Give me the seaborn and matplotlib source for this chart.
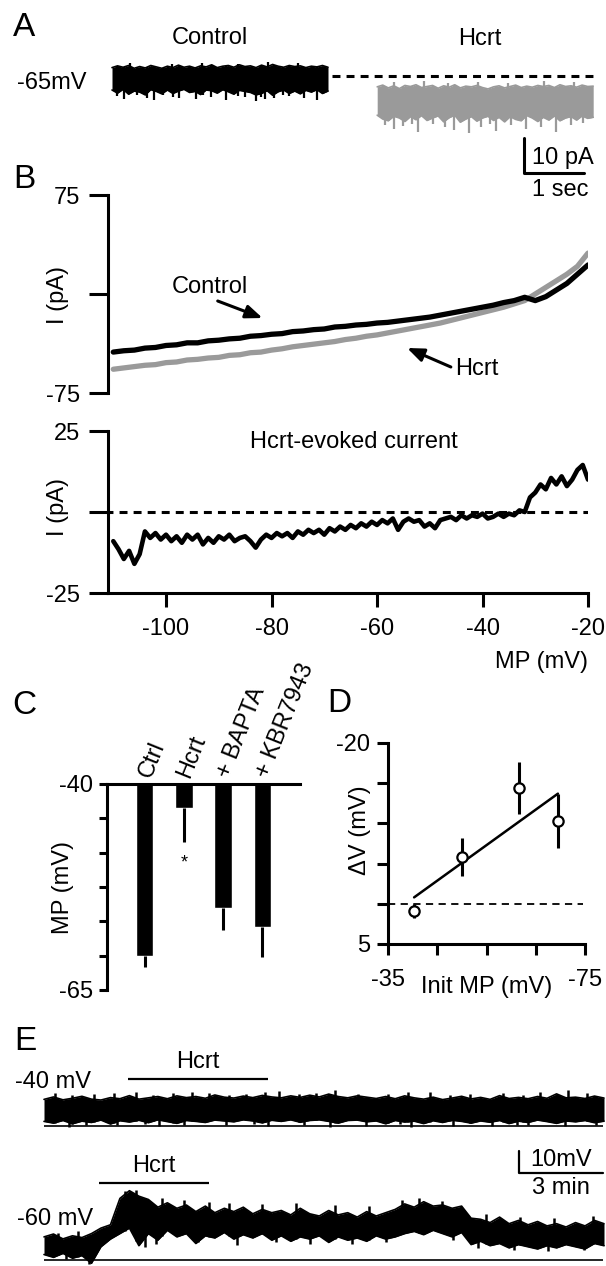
import numpy as np
import seaborn as sns
import matplotlib.pyplot as plt

# ---------------- values ----------------
# A: holding current at -65 mV, upper / lower edge of the noisy trace (pA, 0 = dashed baseline)
a_ctrl_hi = [2.4, 2.9, 2.5, 3.0, 2.2, 2.7, 2.3, 3.0, 2.6, 2.2,
             2.8, 2.4, 3.1, 2.5, 2.8, 2.3, 2.9, 2.6, 3.2, 2.4,
             2.8, 3.0, 2.5, 3.2, 2.7, 2.9, 2.4, 3.1, 2.6, 3.3,
             2.8, 2.5, 3.0, 2.7, 2.9, 2.4, 2.8, 2.6, 3.0, 2.5]
a_ctrl_lo = [-4.0, -4.9, -3.8, -5.2, -4.3, -4.6, -5.4, -3.9, -4.4, -5.1,
             -4.0, -5.0, -4.3, -3.8, -4.7, -4.4, -5.3, -4.0, -4.2, -4.9,
             -3.9, -4.5, -5.2, -4.1, -4.4, -4.7, -5.4, -5.0, -4.2, -5.5,
             -4.5, -4.0, -5.0, -4.3, -5.1, -4.1, -4.6, -3.9, -5.0, -4.3]
a_hcrt_hi = [-3.1, -2.6, -3.4, -2.8, -3.6, -2.7, -3.0, -2.5, -3.3, -3.0,
             -2.7, -3.5, -2.8, -3.2, -2.5, -3.4, -2.9, -3.1, -2.7, -3.3,
             -3.7, -3.1, -2.8, -3.4, -3.0, -2.6, -3.3, -2.9, -3.2, -2.7,
             -3.0, -2.7, -3.3, -2.5, -3.0, -2.8, -3.2, -2.6, -3.0, -2.9]
a_hcrt_lo = [-11.2, -12.3, -12.8, -11.5, -12.0, -13.0, -11.6, -12.5, -11.3, -12.7,
             -12.0, -11.4, -13.1, -11.9, -11.2, -13.2, -12.3, -11.6, -12.9, -12.0,
             -11.5, -12.7, -11.8, -13.1, -11.6, -12.4, -12.8, -11.3, -12.0, -13.0,
             -11.8, -12.6, -11.4, -12.8, -12.0, -11.6, -12.6, -11.4, -12.1, -11.8]
# single fast events sticking out of the band (time s, tip pA)
a_ctrl_dn_t = [0.28, 0.4, 0.62, 0.78, 0.9, 1.05, 1.22, 1.32, 1.6, 1.72, 1.85,
               2.1, 2.3, 2.42, 2.6, 2.68, 2.75, 2.9, 3.05, 3.15, 3.4, 3.62]
a_ctrl_dn_y = [-5.6, -6.5, -5.3, -6.2, -6.9, -5.5, -5.9, -6.4, -6.6, -5.4, -5.9,
               -6.8, -5.6, -6.0, -7.0, -6.1, -6.7, -6.4, -5.5, -5.7, -6.3, -6.8]
a_ctrl_up_t = [0.5, 1.2, 1.7, 2.3, 2.8, 3.3]
a_ctrl_up_y = [3.6, 3.4, 3.8, 3.5, 3.9, 3.7]
a_hcrt_dn_t = [4.75, 4.9, 5.05, 5.2, 5.3, 5.55, 5.75, 5.9, 6.15,
               6.35, 6.5, 6.6, 6.85, 7.1, 7.35, 7.6, 7.85, 8.05]
a_hcrt_dn_y = [-14.0, -15.2, -14.2, -13.6, -16.0, -13.8, -14.6, -15.5, -16.3,
               -14.5, -13.7, -15.8, -13.9, -15.1, -14.6, -15.9, -14.0, -13.5]
a_hcrt_up_t = [4.9, 5.4, 5.8, 6.3, 6.8, 7.4, 7.9]
a_hcrt_up_y = [-1.8, -1.5, -2.0, -1.6, -1.9, -1.4, -1.7]

# B: ramp I-V (pA) against membrane potential (mV)
b_mp = np.arange(-110, -18, 2)
b_ctrl = [-44.0, -43.0, -42.5, -41.0, -40.5, -39.0, -38.5, -37.0, -37.0, -35.5,
          -35.0, -34.0, -33.5, -32.0, -31.5, -30.5, -30.0, -28.5, -28.0, -27.0,
          -26.5, -25.0, -24.5, -23.5, -23.0, -22.0, -21.5, -20.5, -19.5, -18.5,
          -17.5, -16.0, -14.5, -13.0, -11.5, -10.0, -8.5, -6.5, -5.0, -2.5,
          -5.0, -2.0, 3.0, 8.0, 15.0, 22.0]
b_hcrt = [-57.0, -56.0, -55.0, -54.0, -53.5, -52.0, -51.5, -50.0, -49.5, -48.5,
          -48.0, -46.5, -46.0, -44.5, -44.0, -42.5, -41.5, -40.0, -39.0, -38.0,
          -37.0, -36.0, -34.5, -33.5, -32.0, -31.0, -29.5, -28.0, -26.5, -25.0,
          -23.5, -22.0, -20.0, -18.0, -16.0, -14.0, -12.0, -10.0, -7.5, -5.0,
          0.0, 5.0, 10.0, 15.0, 21.0, 31.0]
b_diff_mp = np.arange(-110, -19, 1)
b_diff = [-9.0, -11.5, -14.5, -12.0, -16.0, -13.0, -6.0, -8.0, -6.5, -8.5,
          -7.0, -9.0, -7.5, -9.5, -7.0, -8.5, -7.0, -10.0, -8.0, -9.5,
          -7.5, -8.5, -7.0, -9.0, -8.0, -7.5, -9.0, -11.0, -8.5, -7.0,
          -8.0, -6.5, -7.5, -6.5, -8.0, -6.0, -7.0, -5.5, -6.5, -5.5,
          -7.0, -5.0, -6.0, -4.5, -5.5, -4.0, -5.0, -3.5, -4.5, -3.0,
          -4.0, -2.5, -3.5, -2.0, -5.5, -3.0, -2.0, -3.0, -2.5, -4.5,
          -3.5, -5.0, -2.5, -2.0, -1.5, -2.5, -1.0, -2.0, -1.0, -1.5,
          -0.5, -2.0, -1.5, -0.5, -1.5, -0.5, -1.0, 0.5, 0.0, 4.5,
          6.0, 8.5, 7.0, 10.5, 8.5, 11.0, 8.0, 10.0, 13.0, 14.5,
          10.0]

# C: resting membrane potential (mV), mean and SEM
c_groups = ['Ctrl', 'Hcrt', '+ BAPTA', '+ KBR7943']
c_mp = [-60.9, -42.9, -55.0, -57.3]
c_sem = [1.3, 4.1, 2.7, 3.7]

# D: Hcrt depolarisation vs initial MP
d_init = [-40.3, -50.0, -61.5, -69.5]
d_dv = [0.9, -5.8, -14.4, -10.3]
d_sem = [0.9, 2.4, 3.2, 3.3]
d_fit_x = [-40.3, -69.5]
d_fit_y = [-0.8, -13.7]

# E: slow MP recordings, upper / lower edge in mV above the baseline line, 20 min
e_min = np.linspace(0, 20, 60)
e40_hi = [12.1, 13.2, 11.9, 12.6, 13.5, 12.2, 11.8, 12.9, 12.4, 13.8,
          12.2, 12.8, 13.4, 12.4, 13.7, 12.9, 13.4, 12.6, 14.1, 13.1,
          12.7, 13.6, 12.9, 13.9, 13.2, 12.8, 13.7, 13.0, 14.0, 13.2,
          14.5, 13.4, 12.8, 13.7, 13.1, 12.5, 13.4, 12.4, 13.7, 12.8,
          12.2, 13.1, 12.0, 12.7, 13.5, 12.3, 13.0, 12.1, 13.8, 12.5,
          13.0, 12.4, 13.4, 12.6, 14.6, 12.8, 13.1, 12.5, 13.6, 12.7]
e40_lo = [2.1, 1.3, 2.5, 1.0, 2.2, 1.6, 2.7, 0.9, 2.4, 1.8,
          2.6, 1.5, 2.8, 2.0, 1.2, 2.5, 2.1, 1.6, 2.7, 2.3,
          1.9, 2.8, 2.3, 1.4, 2.6, 2.1, 2.8, 1.7, 2.5, 2.8,
          2.1, 1.3, 2.5, 2.7, 1.9, 2.3, 1.0, 2.5, 1.8, 2.2,
          1.1, 2.4, 1.6, 2.6, 2.1, 1.3, 2.3, 1.7, 2.5, 1.1,
          2.2, 1.6, 2.7, 2.0, 1.2, 2.3, 1.9, 2.5, 1.5, 2.2]
e40_up_t = [0.4, 1.0, 1.8, 2.5, 3.3, 3.9, 4.6, 5.3, 5.9, 6.6,
            7.2, 7.9, 8.4, 9.1, 9.7, 10.4, 11.2, 12.3, 13.0, 13.8,
            14.5, 15.2, 16.4, 17.1, 17.7, 18.7, 19.4]
e40_up_y = [14.8, 14.0, 14.5, 15.2, 15.5, 14.2, 14.8, 15.6, 15.2, 14.3,
            14.6, 15.4, 15.8, 14.4, 14.9, 16.4, 14.6, 14.7, 15.3, 15.6,
            14.2, 14.5, 15.1, 14.3, 15.4, 16.4, 14.8]
e40_dn_t = [0.9, 1.5, 2.6, 3.6, 4.1, 5.0, 6.5, 7.5, 8.0, 9.3,
            10.2, 11.5, 12.7, 13.1, 14.6, 16.0, 16.9, 17.3, 18.6, 19.7]
e40_dn_y = [-0.5, 0.6, 0.3, 0.8, -0.2, 0.5, 0.4, 0.9, 0.0, 0.6,
            -0.3, 0.2, 0.7, -0.4, 0.1, -0.2, 0.6, 0.3, -0.1, 0.5]
e60_hi = [10.5, 11.8, 9.6, 11.0, 10.2, 12.0, 14.5, 16.0, 28.0, 31.5,
          29.0, 27.5, 24.0, 26.0, 23.5, 25.0, 22.0, 24.5, 21.5, 23.5,
          22.0, 24.0, 21.0, 23.0, 21.5, 22.5, 20.5, 23.5, 21.0, 20.0,
          22.5, 20.5, 21.5, 19.5, 22.0, 20.0, 21.5, 23.0, 25.5, 24.0,
          26.5, 24.5, 25.0, 23.5, 24.5, 19.0, 18.5, 17.0, 19.5, 16.5,
          18.0, 16.0, 17.5, 15.5, 16.5, 15.0, 17.0, 15.5, 18.0, 16.5]
e60_lo = [2.5, 1.2, 3.0, 0.8, 2.0, -1.5, 6.0, 9.5, 12.0, 14.5,
          6.5, 12.0, 9.0, 13.5, 10.5, 12.0, 7.5, 11.0, 10.0, 12.5,
          9.5, 11.5, 10.0, 12.0, 9.0, 11.0, 8.5, 10.5, 9.5, 11.0,
          8.0, 10.5, 9.0, 10.0, 8.5, 11.0, 9.5, 10.5, 12.0, 13.0,
          11.5, 13.5, 12.0, 10.5, 12.5, 7.0, 8.5, 6.5, 7.5, 5.5,
          7.0, 6.0, 5.0, 6.5, 5.5, 7.0, 6.0, 5.0, 7.5, 6.5]
e60_up_t = [0.5, 1.2, 2.9, 3.3, 4.2, 5.0, 5.9, 6.6, 7.8, 9.0, 10.4, 11.6,
            12.8, 13.4, 14.2, 15.8, 17.0, 18.2, 19.6]
e60_up_y = [12.5, 13.0, 31.5, 32.0, 28.0, 27.5, 26.5, 26.0, 25.5, 26.0, 25.0, 24.5,
            27.5, 28.0, 27.0, 21.0, 19.5, 19.0, 20.0]
e60_dn_t = [0.8, 1.6, 3.6, 4.0, 5.5, 6.9, 8.3, 9.5, 11.0, 12.2, 14.6, 15.5,
            16.8, 18.0, 19.3]
e60_dn_y = [0.5, -2.0, 6.0, 7.5, 8.0, 7.0, 8.0, 7.5, 7.5, 8.0, 9.0, 5.5,
            4.5, 4.0, 4.5]
e40_hcrt = [3.0, 8.0]
e60_hcrt = [1.96, 5.9]

# ---------------- style ----------------
W, H = 606, 1266
FS = 17
GRAY = '#9a9a9a'

sns.set_theme(style='ticks')
plt.rcParams['font.family'] = ['Liberation Sans', 'DejaVu Sans']
plt.rcParams.update({
    'axes.linewidth': 2.2, 'xtick.major.width': 2.2, 'ytick.major.width': 2.2,
    'xtick.labelsize': FS, 'ytick.labelsize': FS,
    'axes.edgecolor': 'black', 'xtick.color': 'black', 'ytick.color': 'black',
    'text.color': 'black', 'axes.labelcolor': 'black',
    'axes.facecolor': 'none', 'axes.unicode_minus': False,
})

fig = plt.figure(figsize=(W / 100, H / 100), dpi=100)


def box(l, t, r, b):
    # axes placed by pixel edges of the reference
    return fig.add_axes([l / W, 1 - b / H, (r - l) / W, (b - t) / H])


def label(px, py, s, **kw):
    kw.setdefault('fontsize', FS)
    kw.setdefault('ha', 'center')
    kw.setdefault('va', 'center')
    fig.text(px / W, 1 - py / H, s, **kw)


def band(ax, x, lo, hi, color, up_t=(), up_y=(), dn_t=(), dn_y=(), spike_lw=1.6):
    # noisy trace: filled envelope plus the single events that poke out of it
    ax.fill_between(x, lo, hi, color=color, lw=0)
    sns.lineplot(x=x, y=hi, color=color, lw=1.2, ax=ax, estimator=None, sort=False)
    sns.lineplot(x=x, y=lo, color=color, lw=1.2, ax=ax, estimator=None, sort=False)
    if len(up_t):
        ax.vlines(up_t, np.interp(up_t, x, lo), up_y, color=color, lw=spike_lw)
    if len(dn_t):
        ax.vlines(dn_t, dn_y, np.interp(dn_t, x, hi), color=color, lw=spike_lw)


def keep_spines(ax, sides):
    for s in ['left', 'right', 'top', 'bottom']:
        ax.spines[s].set_visible(s in sides)


# ---------------- A ----------------
axA = box(100, 50, 606, 200)
axA.set_xlim(0, 506 / 60)
axA.set_ylim(-124 / 3.5, 26 / 3.5)
band(axA, np.linspace(0.2, 3.8, len(a_ctrl_hi)), a_ctrl_lo, a_ctrl_hi, 'black',
     a_ctrl_up_t, a_ctrl_up_y, a_ctrl_dn_t, a_ctrl_dn_y)
band(axA, np.linspace(4.62, 8.22, len(a_hcrt_hi)), a_hcrt_lo, a_hcrt_hi, GRAY,
     a_hcrt_up_t, a_hcrt_up_y, a_hcrt_dn_t, a_hcrt_dn_y)
axA.hlines(0, 3.87, 8.25, color='black', lw=2.2, linestyles=(0, (2.6, 2)))
axA.plot([7.07, 7.07, 8.07], [-17.7, -27.7, -27.7], color='black', lw=2.2)
axA.text(7.2, -23.4, '10 pA', fontsize=FS, ha='left', va='center')
axA.text(7.67, -32.6, '1 sec', fontsize=FS, ha='center', va='center')
axA.axis('off')

label(13, 28, 'A', fontsize=24, ha='left')
label(210, 38, 'Control')
label(480, 39, 'Hcrt')
label(17, 83, '-65mV', ha='left')

# ---------------- B (top) ----------------
axB = box(108, 195, 588, 393)
sns.lineplot(x=b_mp, y=b_hcrt, color=GRAY, lw=3.8, ax=axB)
sns.lineplot(x=b_mp, y=b_ctrl, color='black', lw=3.8, ax=axB)
axB.set_xlim(-111, -20)
axB.set_ylim(-75, 75)
axB.set_yticks([-75, 0, 75], ['-75', '', '75'])
axB.set_xticks([])
axB.tick_params(axis='y', length=14, pad=6)
keep_spines(axB, ['left'])
axB.set_xlabel('')
axB.set_ylabel('')
arrow = dict(arrowstyle='-|>,head_length=0.5,head_width=0.2', lw=2.2,
             color='black', mutation_scale=20, shrinkA=0, shrinkB=0)
axB.annotate('', xy=(-81.7, -18.2), xytext=(-90.2, -5.3), arrowprops=arrow)
axB.annotate('', xy=(-54.3, -40.9), xytext=(-46.0, -55.3), arrowprops=arrow)
axB.text(-91.7, 5.3, 'Control', fontsize=FS, ha='center', va='center')
axB.text(-45.1, -56.8, 'Hcrt', fontsize=FS, ha='left', va='center')

label(13, 180, 'B', fontsize=24, ha='left')
label(58, 295, 'I (pA)', rotation=90)

# ---------------- B (bottom) ----------------
axB2 = box(108, 431, 588, 593)
axB2.hlines(0, -111.5, -20, color='black', lw=2.2, linestyles=(0, (2.6, 2)))
sns.lineplot(x=b_diff_mp, y=b_diff, color='black', lw=3.3, ax=axB2)
axB2.set_xlim(-111, -20)
axB2.set_ylim(-25, 25)
axB2.set_yticks([-25, 0, 25], ['-25', '', '25'])
axB2.set_xticks([-100, -80, -60, -40, -20])
axB2.tick_params(axis='y', length=14, pad=6)
axB2.tick_params(axis='x', length=10, pad=8)
keep_spines(axB2, ['left', 'bottom'])
axB2.set_xlabel('')
axB2.set_ylabel('')
axB2.text(-64.3, 21.6, 'Hcrt-evoked current', fontsize=FS, ha='center', va='center')

label(58, 507, 'I (pA)', rotation=90)
label(588, 662, 'MP (mV)', ha='right')

# ---------------- C ----------------
axC = box(107, 784, 300, 990)
sns.barplot(x=c_groups, y=c_mp, color='black', width=0.44, saturation=1,
            errorbar=None, ax=axC)
axC.errorbar(range(len(c_groups)), c_mp, yerr=[c_sem, [0] * len(c_sem)],
             fmt='none', ecolor='black', elinewidth=2.2, capsize=0)
axC.text(1, -49.6, '*', fontsize=13, ha='center', va='center')
axC.set_xlim(-0.97, 3.97)
axC.set_ylim(-65, -40)
axC.set_yticks(np.linspace(-40, -65, 7), ['-40', '', '', '', '', '', '-65'])
axC.xaxis.tick_top()
axC.set_xticks(range(len(c_groups)))
axC.set_xticklabels(c_groups, rotation=68, ha='left', va='center',
                    rotation_mode='anchor')
axC.tick_params(axis='x', length=0, pad=5)
axC.tick_params(axis='y', length=6, pad=4)
keep_spines(axC, ['left', 'top'])
axC.set_xlabel('')
axC.set_ylabel('')

label(12, 705, 'C', fontsize=24, ha='left')
label(63, 887, 'MP (mV)', rotation=90)

# ---------------- D ----------------
axD = box(388, 743, 585, 944)
axD.hlines(0, -35, -74.5, color='black', lw=1.3, linestyles=(0, (4, 3)))
sns.lineplot(x=d_fit_x, y=d_fit_y, color='black', lw=1.8, ax=axD)
axD.errorbar(d_init, d_dv, yerr=d_sem, fmt='none', ecolor='black',
             elinewidth=2.2, capsize=0, zorder=3)
sns.scatterplot(x=d_init, y=d_dv, s=55, color='white', edgecolor='black',
                linewidth=1.6, zorder=4, ax=axD)
axD.set_xlim(-35, -75)
axD.set_ylim(5, -20)
axD.set_xticks([-35, -45, -55, -65, -75], ['-35', '', '', '', '-75'])
axD.set_yticks([-20, -15, -10, -5, 0, 5], ['-20', '', '', '', '', '5'])
axD.tick_params(axis='y', length=8, pad=5)
axD.tick_params(axis='x', length=8, pad=10)
keep_spines(axD, ['left', 'bottom'])
axD.set_ylabel('')
axD.set_xlabel('Init MP (mV)', fontsize=FS)
axD.xaxis.set_label_coords(0.5, -0.16)

label(327, 703, 'D', fontsize=24, ha='left')
label(360, 830, 'ΔV (mV)', rotation=90)

# ---------------- E ----------------
axE1 = box(40, 1040, 606, 1140)
axE1.set_xlim(-4 / 28, 562 / 28)
axE1.set_ylim(-14 / 2.2, 86 / 2.2)
band(axE1, e_min, e40_lo, e40_hi, 'black', e40_up_t, e40_up_y, e40_dn_t, e40_dn_y,
     spike_lw=1.8)
axE1.hlines(0, 0, 19.96, color='black', lw=1.2)
axE1.hlines(21.4, *e40_hcrt, color='black', lw=1.6)
axE1.text(np.mean(e40_hcrt), 29, 'Hcrt', fontsize=FS, ha='center', va='center')
axE1.axis('off')

axE2 = box(40, 1140, 606, 1266)
axE2.set_xlim(-4 / 28, 562 / 28)
axE2.set_ylim(-6 / 2.2, 120 / 2.2)
band(axE2, e_min, e60_lo, e60_hi, 'black', e60_up_t, e60_up_y, e60_dn_t, e60_dn_y,
     spike_lw=1.8)
axE2.hlines(0, 0, 19.96, color='black', lw=1.2)
axE2.hlines(35, *e60_hcrt, color='black', lw=1.6)
axE2.text(np.mean(e60_hcrt), 42.7, 'Hcrt', fontsize=FS, ha='center', va='center')
axE2.plot([16.96, 16.96, 19.96], [49.5, 39.5, 39.5], color='black', lw=1.6)
axE2.text(17.36, 45.5, '10mV', fontsize=FS, ha='left', va='center')
axE2.text(18.46, 32.7, '3 min', fontsize=FS, ha='center', va='center')
axE2.axis('off')

label(14, 1042, 'E', fontsize=24, ha='left')
label(15, 1082, '-40 mV', ha='left')
label(17, 1219, '-60 mV', ha='left')

fig.savefig('out.png', dpi=100)
